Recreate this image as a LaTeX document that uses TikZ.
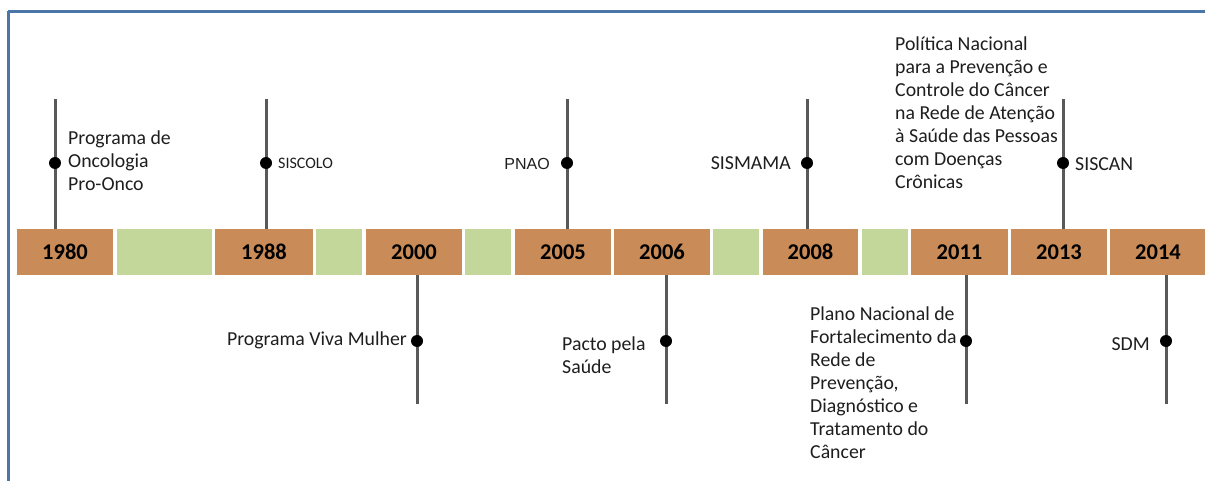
\documentclass[tikz,border=0pt]{standalone}
\usepackage{fontspec}
\setmainfont{Carlito}
\newfontfamily\arialf{Liberation Sans}
\definecolor{frameblue}{HTML}{4A76A8}
\definecolor{yrorange}{HTML}{C98B57}
\definecolor{gapgreen}{HTML}{C4D79B}
\definecolor{stemgray}{HTML}{595959}
\definecolor{txt}{HTML}{1E1E1E}
\tikzset{
  yrbox/.style={fill=yrorange, draw=none, minimum height=46pt, inner sep=0pt, text=black, font=\fontsize{22.5}{25}\selectfont\bfseries},
  gapbox/.style={fill=gapgreen, draw=none, minimum height=46pt, inner sep=0pt},
  stemline/.style={draw=stemgray, line width=3pt},
  evdot/.style={circle, fill=black, inner sep=0pt, minimum size=12pt},
  lbl/.style={inner sep=0pt, text=txt, align=left, font=\fontsize{19.8}{23}\selectfont},
  smalllbl/.style={inner sep=0pt, text=txt, font=\fontsize{16}{18}\selectfont},
}
\begin{document}
\begin{tikzpicture}[x=1pt,y=-1pt]
\useasboundingbox (0,0) rectangle (1205,481);
\fill[white] (0,0) rectangle (1205,481);
\draw[frameblue, line width=3pt] (8,11.5) -- (1215,11.5);
\draw[frameblue, line width=3pt] (8,11.5) -- (8,490);
% boxes
\node[yrbox, minimum width=96pt] (y1980) at (65,252) {1980};
\node[gapbox, minimum width=95pt] (g1) at (164.5,252) {};
\node[yrbox, minimum width=98pt] (y1988) at (264,252) {1988};
\node[gapbox, minimum width=46pt] (g2) at (339,252) {};
\node[yrbox, minimum width=96pt] (y2000) at (414,252) {2000};
\node[gapbox, minimum width=46pt] (g3) at (488,252) {};
\node[yrbox, minimum width=96pt] (y2005) at (563,252) {2005};
\node[yrbox, minimum width=96pt] (y2006) at (662,252) {2006};
\node[gapbox, minimum width=46pt] (g4) at (736,252) {};
\node[yrbox, minimum width=95pt] (y2008) at (810.5,252) {2008};
\node[gapbox, minimum width=46pt] (g5) at (885,252) {};
\node[yrbox, minimum width=97pt] (y2011) at (959.5,252) {2011};
\node[yrbox, minimum width=96pt] (y2013) at (1059,252) {2013};
\node[yrbox, minimum width=96pt] (y2014) at (1158,252) {2014};
% stem end points
\coordinate (t1980) at (55,99);
\coordinate (t1988) at (266,99);
\coordinate (t2005) at (567,99);
\coordinate (t2008) at (807,99);
\coordinate (t2013) at (1063,99);
\coordinate (b2000) at (417,404);
\coordinate (b2006) at (666,404);
\coordinate (b2011) at (966,404);
\coordinate (b2014) at (1166,404);
\draw[stemline] (t1980) -- (t1980 |- y1980.north);
\draw[stemline] (t1988) -- (t1988 |- y1988.north);
\draw[stemline] (t2005) -- (t2005 |- y2005.north);
\draw[stemline] (t2008) -- (t2008 |- y2008.north);
\draw[stemline] (t2013) -- (t2013 |- y2013.north);
\draw[stemline] (b2000) -- (b2000 |- y2000.south);
\draw[stemline] (b2006) -- (b2006 |- y2006.south);
\draw[stemline] (b2011) -- (b2011 |- y2011.south);
\draw[stemline] (b2014) -- (b2014 |- y2014.south);
% dots
\node[evdot] (d1980) at (55,163) {};
\node[evdot] (d1988) at (266,163) {};
\node[evdot] (d2005) at (567,163) {};
\node[evdot] (d2008) at (807,163) {};
\node[evdot] (d2013) at (1063,163) {};
\node[evdot] (d2000) at (417,341) {};
\node[evdot] (d2006) at (666,341) {};
\node[evdot] (d2011) at (966,341) {};
\node[evdot] (d2014) at (1166,341) {};
% labels
\node[lbl, anchor=west] (l1980) at (68,161) {Programa de\\Oncologia\\Pro-Onco};
\node[smalllbl, anchor=west] (l1988) at (278,163) {SISCOLO};
\node[lbl, anchor=east, font=\arialf\fontsize{16}{19}\selectfont] (l2005) at (550,164) {PNAO};
\node[lbl, anchor=east] (l2008) at (791,163) {SISMAMA};
\node[lbl, anchor=west] (l2011a) at (895,113) {Política Nacional\\para a Prevenção e\\Controle do Câncer\\na Rede de Atenção\\à Saúde das Pessoas\\com Doenças\\Crônicas};
\node[lbl, anchor=west] (l2013) at (1075,164) {SISCAN};
\node[lbl, anchor=east] (l2000) at (407,340) {Programa Viva Mulher};
\node[lbl, anchor=west] (l2006) at (562,355) {Pacto pela\\Saúde};
\node[lbl, anchor=west] (l2011b) at (810,383) {Plano Nacional de\\Fortalecimento da\\Rede de\\Prevenção,\\Diagnóstico e\\Tratamento do\\Câncer};
\node[lbl, anchor=east] (l2014) at (1150,344) {SDM};
\end{tikzpicture}
\end{document}
